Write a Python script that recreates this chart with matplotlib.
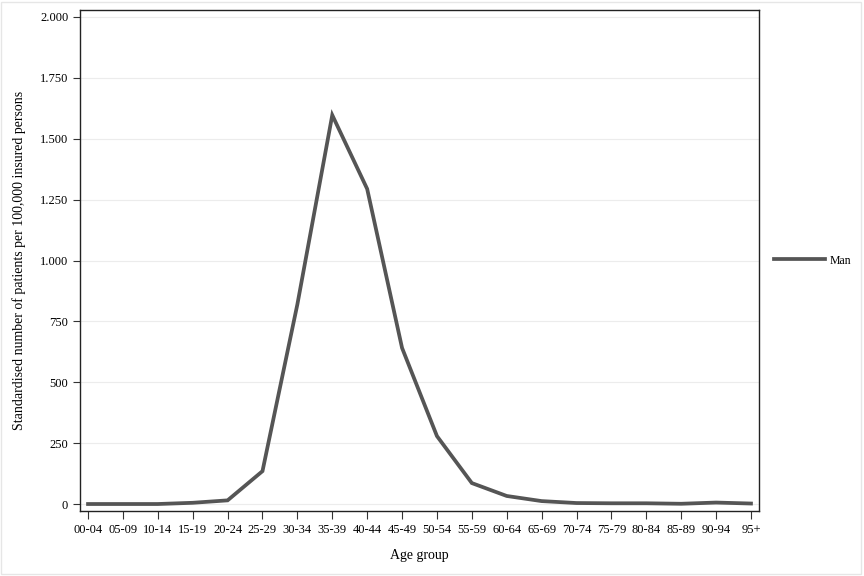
import numpy as np
import matplotlib.pyplot as plt
from matplotlib.ticker import FuncFormatter
from matplotlib.patches import Rectangle

age_groups = ["00-04", "05-09", "10-14", "15-19", "20-24", "25-29", "30-34", "35-39",
              "40-44", "45-49", "50-54", "55-59", "60-64", "65-69", "70-74", "75-79",
              "80-84", "85-89", "90-94", "95+"]
man = [0, 0, 0, 5, 15, 135, 820, 1597, 1294, 641, 279, 86, 33, 12, 4, 3, 3, 1, 6, 2]

plt.rcParams['font.family'] = ['Liberation Serif', 'DejaVu Serif']

fig = plt.figure(figsize=(8.64, 5.76), dpi=100)
ax = fig.add_axes([80 / 864, 65 / 576, 679 / 864, 501 / 576])

x = np.arange(len(age_groups))
ax.plot(x, man, color='#555555', lw=2.7, label='Man', solid_joinstyle='miter')

ax.set_xticks(x)
ax.set_xticklabels(age_groups, fontsize=9)
ax.set_xlim(-0.23, 19.23)
ax.set_yticks(np.arange(0, 2001, 250))
ax.set_ylim(-28.7, 2028.7)
ax.yaxis.set_major_formatter(FuncFormatter(lambda v, p: f"{int(v):,}".replace(",", ".")))
ax.tick_params(axis='y', labelsize=9, length=5, width=0.8, color='#333333')
ax.tick_params(axis='x', length=6, width=0.8, color='#333333')
ax.grid(axis='y', color='#ececec', lw=0.8)
ax.set_axisbelow(True)
for s in ax.spines.values():
    s.set_color('#222222')
    s.set_linewidth(1.0)

ax.set_xlabel('Age group', fontsize=10, labelpad=9)
ax.set_ylabel('Standardised number of patients per 100,000 insured persons', fontsize=10, labelpad=10)

ax.legend(loc='center left', bbox_to_anchor=(1.007, 0.5), frameon=False, fontsize=8.5,
          handlelength=4.3, handletextpad=0.4)

fig.patches.append(Rectangle((0.001, 0.003), 0.996, 0.994, transform=fig.transFigure,
                             fill=False, edgecolor='#e6e6e6', lw=1))

fig.savefig('out.png', dpi=100)
